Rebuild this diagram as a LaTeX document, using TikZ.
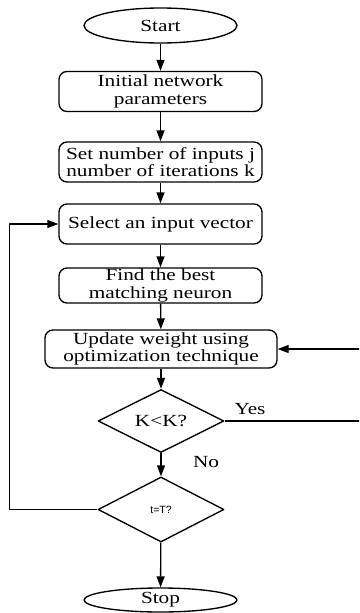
\documentclass[tikz,border=0pt]{standalone}
\usepackage{fontspec}
\setmainfont{Liberation Serif}[FakeStretch=1.25]
\setsansfont{Liberation Sans}
\usetikzlibrary{arrows.meta,shapes.geometric}
\begin{document}
\begin{tikzpicture}[x=1pt,y=-1pt,>={Triangle[length=11pt,width=8pt]}, line width=1.35pt, font=\fontsize{17}{17.5}\selectfont, line join=round,
	term/.style={draw,ellipse,inner sep=0pt,minimum width=153pt,minimum height=35pt},
	box/.style={draw,rounded corners=8pt,align=center,inner sep=0pt,minimum width=203pt,minimum height=40pt},
	test/.style={draw,diamond,aspect=2,inner sep=0pt,minimum width=126pt,minimum height=63pt}]
				\useasboundingbox (0,0) rectangle (359,613);
				\clip (0,0) rectangle (359,613);
				\node[term] (start) at (160.5,25.5) {Start};
				\node[box] (init) at (160.5,91.5) {Initial network\\parameters};
				\node[box] (set) at (160.5,162) {Set number of inputs j\\number of iterations k};
				\node[box] (select) at (160.5,224) {Select an input vector};
				\node[box,minimum height=35pt] (find) at (160.5,285.5) {Find the best\\matching neuron};
				\node[box,minimum width=232pt,minimum height=38pt] (update) at (161,349) {Update weight using\\optimization technique};
				\node[test] (kk) at (161,421) {K<K?};
				\node[test,minimum height=65pt,font=\sffamily\fontsize{10.5}{10.5}\selectfont] (tt) at (161,509.5) {t=T?};
				\node[term,minimum height=24pt] (stop) at (160.5,600) {Stop};
				\node (yes) at (250,409) {Yes};
				\node (no) at (206,462) {No};
				% loop lines run out at both sides
				\coordinate (loopl) at (9.5,0);
				\coordinate (loopr) at (364,0);
				\draw[->] (start)--(init);
				\draw[->] (init)--(set);
				\draw[->] (set)--(select);
				\draw[->] (select)--(find);
				\draw[->] (find)--(update);
				\draw[->] (update)--(kk);
				\draw[->] (kk)--(tt);
				\draw[->] (tt)--(stop);
				\draw[->] (kk.east)--(kk.east -| loopr) |- (update.east);
				\draw[->] (tt.west)--(tt.west -| loopl) |- (select.west);
			\end{tikzpicture}
\end{document}
